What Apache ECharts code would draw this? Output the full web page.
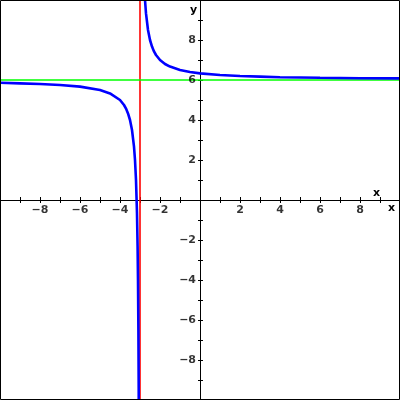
<!DOCTYPE html>
<html>
<head>
<meta charset="utf-8">
<script src="https://cdn.jsdelivr.net/npm/echarts@6/dist/echarts.min.js"></script>
<style>html,body{margin:0;padding:0;background:#fff}#c{width:400px;height:400px}</style>
</head>
<body>
<div id="c"></div>
<script>
// Axis range and tick labels
var axisMin = -10, axisMax = 10;
var tickLabels = [-8, -6, -4, -2, 2, 4, 6, 8];
// Asymptotes
var verticalAsymptote = [-3];
var horizontalAsymptote = [6];
// Left branch of the curve
var leftX = [-10, -9, -8, -7, -6, -5, -4.5, -4, -3.8, -3.7, -3.6, -3.5, -3.4, -3.3, -3.25, -3.2, -3.15, -3.12, -3.1, -3.08, -3.065, -3.05];
var leftY = [5.86, 5.83, 5.8, 5.75, 5.67, 5.5, 5.33, 5.0, 4.75, 4.57, 4.33, 4.0, 3.5, 2.67, 2.0, 1.0, -0.67, -2.33, -4.0, -6.5, -9.4, -14];
// Right branch of the curve
var rightX = [-2.8, -2.75, -2.7, -2.6, -2.5, -2.4, -2.3, -2.2, -2.0, -1.75, -1.5, -1.0, -0.5, 0, 1, 2, 3, 4, 6, 8, 10];
var rightY = [11, 10, 9.33, 8.5, 8.0, 7.67, 7.43, 7.25, 7.0, 6.8, 6.67, 6.5, 6.4, 6.33, 6.25, 6.2, 6.17, 6.14, 6.11, 6.09, 6.08];

function zip(a, b) { return a.map(function (v, i) { return [v, b[i]]; }); }
function txt(v) { return String(v).replace('-', '\u2212'); }

var labelFont = { fontSize: 11, fontWeight: 'bold', fontFamily: 'DejaVu Sans', color: '#000' };
var lineStyle = { color: '#000', width: 1 };
var gridBox = { left: 0, right: 0, top: 0, bottom: 0, containLabel: false, outerBoundsMode: 'none' };

var chart = echarts.init(document.getElementById('c'), null, { renderer: 'canvas' });
chart.setOption({
  animation: false,
  backgroundColor: '#fff',
  grid: [Object.assign({}, gridBox), Object.assign({}, gridBox)],
  xAxis: [
    { gridIndex: 0, type: 'value', min: axisMin, max: axisMax, interval: 1, position: 'bottom',
      axisLine: { show: true, onZero: true, lineStyle: lineStyle },
      axisTick: { show: true, length: 3, inside: false, lineStyle: lineStyle },
      axisLabel: { show: false }, splitLine: { show: false } },
    { gridIndex: 1, type: 'value', min: axisMin, max: axisMax, interval: 1, position: 'top',
      axisLine: { show: true, onZero: true, lineStyle: lineStyle },
      axisTick: { show: true, length: 3, inside: false, lineStyle: lineStyle },
      axisLabel: { show: false }, splitLine: { show: false } }
  ],
  yAxis: [
    { gridIndex: 0, type: 'value', min: axisMin, max: axisMax, interval: 1, position: 'left',
      axisLine: { show: true, onZero: true, lineStyle: lineStyle },
      axisTick: { show: true, length: 2, inside: false, lineStyle: lineStyle },
      axisLabel: { show: false }, splitLine: { show: false } },
    { gridIndex: 1, type: 'value', min: axisMin, max: axisMax, interval: 1, position: 'right',
      axisLine: { show: true, onZero: true, lineStyle: lineStyle },
      axisTick: { show: true, length: 3, inside: false, lineStyle: lineStyle },
      axisLabel: { show: false }, splitLine: { show: false } }
  ],
  series: [
    { type: 'line', xAxisIndex: 0, yAxisIndex: 0, data: [[verticalAsymptote[0], axisMin], [verticalAsymptote[0], axisMax]],
      showSymbol: false, lineStyle: { color: '#ff0000', width: 1.6 }, z: 3 },
    { type: 'line', xAxisIndex: 0, yAxisIndex: 0, data: [[axisMin, horizontalAsymptote[0]], [axisMax, horizontalAsymptote[0]]],
      showSymbol: false, lineStyle: { color: '#00ff00', width: 1.3 }, z: 3 },
    { type: 'line', xAxisIndex: 0, yAxisIndex: 0, data: zip(leftX, leftY), showSymbol: false, clip: true,
      lineStyle: { color: '#0000ff', width: 2.6 }, z: 4 },
    { type: 'line', xAxisIndex: 0, yAxisIndex: 0, data: zip(rightX, rightY), showSymbol: false, clip: true,
      lineStyle: { color: '#0000ff', width: 2.6 }, z: 4 },
    // x tick labels
    { type: 'scatter', xAxisIndex: 0, yAxisIndex: 0, symbolSize: 0, silent: true, z: 5,
      data: tickLabels.map(function (v) { return [v, 0]; }),
      label: Object.assign({ show: true, position: 'bottom', distance: 5,
        formatter: function (p) { return txt(p.value[0]); } }, labelFont) },
    // y tick labels
    { type: 'scatter', xAxisIndex: 0, yAxisIndex: 0, symbolSize: 0, silent: true, z: 5,
      data: tickLabels.map(function (v) { return [0, v]; }),
      label: Object.assign({ show: true, position: 'left', distance: 4,
        formatter: function (p) { return txt(p.value[1]); } }, labelFont) },
    { type: 'line', xAxisIndex: 1, yAxisIndex: 1, data: [], showSymbol: false }
  ],
  graphic: [
    { type: 'rect', shape: { x: 0.5, y: 0.5, width: 399, height: 399 }, style: { fill: 'none', stroke: '#000', lineWidth: 1 }, z: 100 },
    { type: 'text', left: 190, top: 5, style: { text: 'y', font: 'bold 11px "DejaVu Sans"', fill: '#000' } },
    { type: 'text', left: 373, top: 188, style: { text: 'x', font: 'bold 11px "DejaVu Sans"', fill: '#000' } },
    { type: 'text', left: 388, top: 203, style: { text: 'x', font: 'bold 11px "DejaVu Sans"', fill: '#000' } }
  ]
});
</script>
</body>
</html>
